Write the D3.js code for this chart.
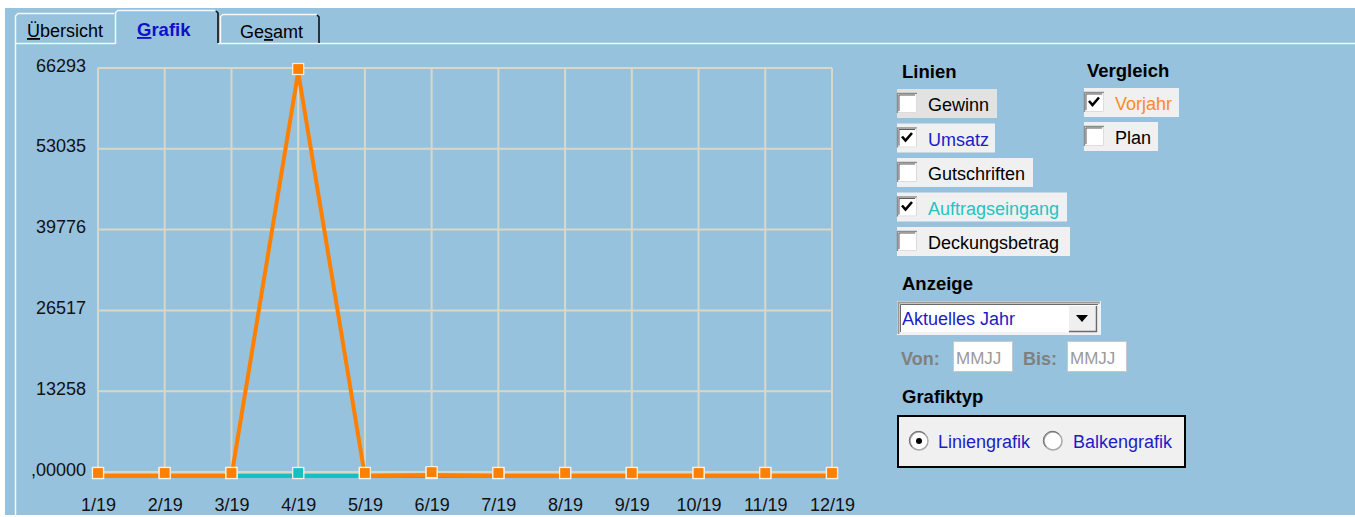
<!DOCTYPE html>
<html>
<head>
<meta charset="utf-8">
<script src="https://cdn.jsdelivr.net/npm/d3@7"></script>
<style>
  html, body { margin: 0; padding: 0; background: #ffffff; }
  svg { display: block; font-family: "Liberation Sans", Arial, sans-serif; }
</style>
</head>
<body>
<svg id="chart" width="1355" height="517"></svg>
<script>
// ---------- data ----------
const months = ["1/19","2/19","3/19","4/19","5/19","6/19","7/19","8/19","9/19","10/19","11/19","12/19"];
const umsatz          = [0,0,0,0,0,0,0,0,0,0,0,0];
const auftragseingang = [0,0,0,0,0,0,0,0,0,0,0,0];
const vorjahr         = [0,0,0,66293,0,150,0,0,0,0,0,0];
const yTickValues = [0, 13258, 26517, 39776, 53035, 66293];
const yTickLabels = [",00000","13258","26517","39776","53035","66293"];

const tabs = ["Übersicht","Grafik","Gesamt"];
const linienItems = ["Gewinn","Umsatz","Gutschriften","Auftragseingang","Deckungsbetrag"];
const linienChecked = [false,true,false,true,false];
const vergleichItems = ["Vorjahr","Plan"];
const vergleichChecked = [true,false];

// ---------- styles ----------
const BG = "#96c2de";
const GRID = "#d9d8c6";
const ORANGE = "#ff8000";
const CYAN = "#14c0c0";
const BLUE_LINE = "#2020d0";
const LABEL_BLUE = "#1c1cc8";

const svg = d3.select("#chart");

// page background
svg.append("rect").attr("width",1355).attr("height",517).attr("fill","#ffffff");
svg.append("rect").attr("x",5).attr("y",8).attr("width",1350).attr("height",507).attr("fill",BG);

// ---------- tabs ----------
const tabG = svg.append("g");
tabG.append("path").attr("d","M15.5,517 L15.5,43.5 L115,43.5 M218,43.5 L1355,43.5")
  .attr("stroke","#f4f8fb").attr("stroke-width",1.5).attr("fill","none");
tabG.append("path").attr("d","M15.5,43 L15.5,16 L18,13.5 L114,13.5")
  .attr("stroke","#f4f8fb").attr("stroke-width",1.5).attr("fill","none");
tabG.append("path").attr("d","M115.5,44 L115.5,12.5 L118,10.5 L215,10.5")
  .attr("stroke","#f4f8fb").attr("stroke-width",1.5).attr("fill","none");
tabG.append("path").attr("d","M216,11 L218,13 L218,43")
  .attr("stroke","#101010").attr("stroke-width",1.6).attr("fill","none");
tabG.append("path").attr("d","M220.5,43 L220.5,16.5 L223,14.5 L317,14.5")
  .attr("stroke","#f4f8fb").attr("stroke-width",1.5).attr("fill","none");
tabG.append("path").attr("d","M317,15 L319,17 L319,43")
  .attr("stroke","#101010").attr("stroke-width",1.6).attr("fill","none");

const t1 = tabG.append("text").attr("x",27).attr("y",37).attr("font-size",18).attr("fill","#000");
t1.append("tspan").attr("text-decoration","underline").text(tabs[0].slice(0,1));
t1.append("tspan").text(tabs[0].slice(1));
const t2 = tabG.append("text").attr("x",137).attr("y",36).attr("font-size",18.5).attr("font-weight","bold").attr("fill","#1010c8");
t2.append("tspan").attr("text-decoration","underline").text(tabs[1].slice(0,1));
t2.append("tspan").text(tabs[1].slice(1));
const t3 = tabG.append("text").attr("x",240).attr("y",38).attr("font-size",18).attr("fill","#000");
t3.append("tspan").text(tabs[2].slice(0,2));
t3.append("tspan").attr("text-decoration","underline").text(tabs[2].slice(2,3));
t3.append("tspan").text(tabs[2].slice(3));

// ---------- chart ----------
const x = d3.scalePoint().domain(months).range([98, 832]);
const y = d3.scaleLinear().domain([0, 66293]).range([472, 68]);

const grid = svg.append("g");
grid.selectAll("line.v").data(months).join("line")
  .attr("x1",d=>x(d)).attr("x2",d=>x(d)).attr("y1",y(66293)).attr("y2",y(0))
  .attr("stroke",GRID).attr("stroke-width",2);
grid.selectAll("line.h").data(yTickValues).join("line")
  .attr("x1",x(months[0])).attr("x2",x(months[months.length-1]))
  .attr("y1",d=>y(d)).attr("y2",d=>y(d))
  .attr("stroke",GRID).attr("stroke-width",2);

const yAxis = svg.append("g").attr("transform",`translate(${x(months[0])},0)`)
  .call(d3.axisLeft(y).tickValues(yTickValues).tickSize(0).tickPadding(12)
        .tickFormat((d,i)=>yTickLabels[i]));
yAxis.select(".domain").remove();
yAxis.selectAll("text").attr("font-size",18).attr("fill","#111").attr("dy",3)
  .attr("font-family","Liberation Sans, Arial, sans-serif");

const xAxis = svg.append("g").attr("transform",`translate(0,${y(0)})`)
  .call(d3.axisBottom(x).tickSize(0).tickPadding(0));
xAxis.select(".domain").remove();
xAxis.selectAll("text").attr("font-size",18).attr("fill","#111").attr("y",39).attr("dy",0)
  .attr("font-family","Liberation Sans, Arial, sans-serif");

const series = [
  {values: umsatz, color: BLUE_LINE},
  {values: auftragseingang, color: CYAN},
  {values: vorjahr, color: ORANGE}
];
const line = d3.line().x((d,i)=>x(months[i])).y(d=>y(d));
series.forEach(s=>{
  svg.append("path").datum(s.values)
    .attr("d",line).attr("transform","translate(0,4)")
    .attr("fill","none").attr("stroke",s.color).attr("stroke-width",4)
    .attr("stroke-linejoin","miter");
});
series.forEach(s=>{
  svg.append("g").selectAll("rect").data(s.values).join("rect")
    .attr("x",(d,i)=>x(months[i])-5.5).attr("y",d=>y(d)-4.5)
    .attr("width",11).attr("height",11)
    .attr("fill",s.color).attr("stroke","#f3f1e4").attr("stroke-width",1.2);
});

// ---------- right panel ----------
const panel = svg.append("g").attr("font-size",18);

function heading(txt, px, py){
  panel.append("text").attr("x",px).attr("y",py).attr("font-weight","bold")
    .attr("font-size",18.5).attr("fill","#000").text(txt);
}
function checkbox(px, py, checked){
  panel.append("rect").attr("x",px).attr("y",py).attr("width",20).attr("height",20).attr("fill","#ffffff");
  panel.append("path").attr("d",`M${px+0.5},${py+20} L${px+0.5},${py+0.5} L${px+20},${py+0.5}`)
    .attr("stroke","#8c8c8c").attr("stroke-width",1.5).attr("fill","none");
  panel.append("path").attr("d",`M${px+2},${py+18} L${px+2},${py+2} L${px+18},${py+2}`)
    .attr("stroke","#5a5a5a").attr("stroke-width",1).attr("fill","none");
  panel.append("path").attr("d",`M${px+1},${py+19.5} L${px+19.5},${py+19.5} L${px+19.5},${py+1}`)
    .attr("stroke","#dcdcdc").attr("stroke-width",1).attr("fill","none");
  if(checked){
    panel.append("path").attr("d",`M${px+5},${py+9} L${px+8.5},${py+13} L${px+15},${py+5.5}`)
      .attr("stroke","#000").attr("stroke-width",2.6).attr("fill","none");
  }
}

heading("Linien", 902, 78);
heading("Vergleich", 1087, 77);

const linienWidths = [100, 98, 136, 170, 173];
const linienColors = ["#000", LABEL_BLUE, "#000", "#22c4c4", "#000"];
linienItems.forEach((name,i)=>{
  const top = 89 + i*34.5;
  panel.append("rect").attr("x",897).attr("y",top).attr("width",linienWidths[i]).attr("height",29)
    .attr("fill", i===0 ? "#e2e2e2" : "#f0f0f0");
  checkbox(897, top+4, linienChecked[i]);
  panel.append("text").attr("x",928).attr("y",top+22).attr("fill",linienColors[i]).text(name);
});

const vergleichWidths = [95, 74];
const vergleichColors = ["#ff8a26", "#000"];
vergleichItems.forEach((name,i)=>{
  const top = 88 + i*34;
  panel.append("rect").attr("x",1084).attr("y",top).attr("width",vergleichWidths[i]).attr("height",29)
    .attr("fill","#f0f0f0");
  checkbox(1084, top+4, vergleichChecked[i]);
  panel.append("text").attr("x",1115).attr("y",top+22).attr("fill",vergleichColors[i]).text(name);
});

heading("Anzeige", 902, 290);
panel.append("rect").attr("x",897).attr("y",301).attr("width",204).attr("height",34).attr("fill","#f2f2f2");
panel.append("rect").attr("x",900).attr("y",304).attr("width",198).attr("height",28).attr("fill","#ffffff");
panel.append("path").attr("d","M898.5,334 L898.5,302.5 L1100,302.5").attr("stroke","#9a9a9a").attr("stroke-width",2).attr("fill","none");
panel.append("path").attr("d","M900.5,332 L900.5,304.5 L1098,304.5").attr("stroke","#6a6a6a").attr("stroke-width",1).attr("fill","none");
panel.append("text").attr("x",902).attr("y",325).attr("fill",LABEL_BLUE).text("Aktuelles Jahr");
panel.append("rect").attr("x",1068).attr("y",305).attr("width",29).attr("height",27).attr("fill","#efefef");
panel.append("path").attr("d","M1068.5,331 L1068.5,305.5 L1096,305.5").attr("stroke","#ffffff").attr("stroke-width",1).attr("fill","none");
panel.append("path").attr("d","M1069,331.5 L1096.5,331.5 L1096.5,306").attr("stroke","#6a6a6a").attr("stroke-width",1.5).attr("fill","none");
panel.append("path").attr("d","M1076,315 L1088,315 L1082,322 Z").attr("fill","#000");

panel.append("text").attr("x",901).attr("y",365).attr("font-weight","bold").attr("fill","#808080").text("Von:");
panel.append("rect").attr("x",953.5).attr("y",341.5).attr("width",59).attr("height",30).attr("fill","#fff").attr("stroke","#c8c8c8");
panel.append("text").attr("x",956).attr("y",364).attr("font-size",17).attr("fill","#9a9a9a").text("MMJJ");
panel.append("text").attr("x",1023).attr("y",365).attr("font-weight","bold").attr("fill","#808080").text("Bis:");
panel.append("rect").attr("x",1067.5).attr("y",341.5).attr("width",59).attr("height",30).attr("fill","#fff").attr("stroke","#c8c8c8");
panel.append("text").attr("x",1070).attr("y",364).attr("font-size",17).attr("fill","#9a9a9a").text("MMJJ");

heading("Grafiktyp", 902, 403);
panel.append("rect").attr("x",898).attr("y",416).attr("width",287).attr("height",51)
  .attr("fill","#f0f0f0").attr("stroke","#000").attr("stroke-width",2);
[[919,"Liniengrafik",true,938],[1053,"Balkengrafik",false,1073]].forEach(r=>{
  panel.append("circle").attr("cx",r[0]).attr("cy",441).attr("r",9).attr("fill","#fff")
    .attr("stroke","#a8a8a8").attr("stroke-width",1.5);
  panel.append("path").attr("d",`M${r[0]-7},${447} A9,9 0 0 1 ${r[0]+6},${434}`)
    .attr("stroke","#6a6a6a").attr("stroke-width",1).attr("fill","none");
  if(r[2]) panel.append("circle").attr("cx",r[0]).attr("cy",441).attr("r",3).attr("fill","#000");
  panel.append("text").attr("x",r[3]).attr("y",448).attr("fill",LABEL_BLUE).text(r[1]);
});
</script>
</body>
</html>
